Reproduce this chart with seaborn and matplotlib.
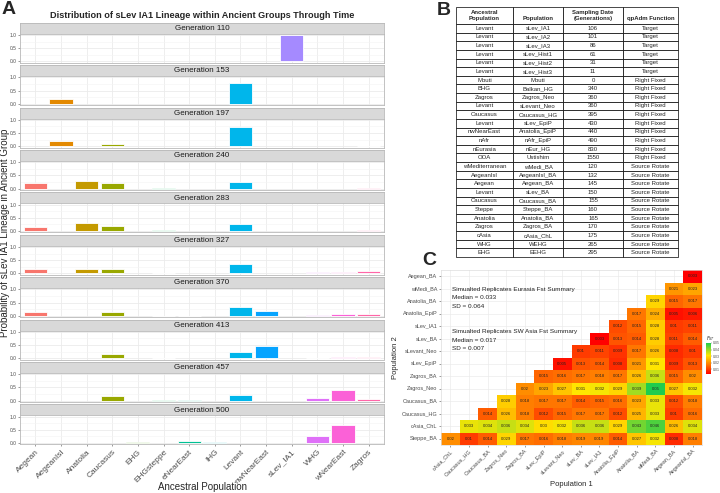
import numpy as np
import pandas as pd
import matplotlib
matplotlib.use("Agg")
import matplotlib.pyplot as plt
import seaborn as sns
from matplotlib.colors import LinearSegmentedColormap

# ---------------- panel A: lineage probability per generation ----------------
populations = ["Aegean", "AegeanIsl", "Anatolia", "Caucasus", "EHG", "EHGsteppe",
               "eNearEast", "IHG", "Levant", "nwNearEast", "sLev_IA1", "WHG",
               "wNearEast", "Zagros"]
pop_colors = ["#F8766D", "#E38900", "#C49A00", "#99A800", "#53B400", "#00BC56",
              "#00C094", "#00BFC4", "#00B6EB", "#06A4FF", "#A58AFF", "#DF70F8",
              "#FB61D7", "#FF66A8"]
generations = [110, 153, 197, 240, 283, 327, 370, 413, 457, 500]

gen_110 = [0, 0, 0, 0, 0, 0, 0, 0, 0, 0, 1.0, 0, 0, 0]
gen_153 = [0, 0.2, 0, 0, 0, 0, 0, 0, 0.8, 0, 0, 0, 0, 0]
gen_197 = [0, 0.2, 0, 0.07, 0, 0, 0, 0, 0.72, 0, 0, 0, 0, 0.02]
gen_240 = [0.2, 0, 0.27, 0.23, 0, 0.01, 0, 0, 0.25, 0, 0, 0, 0, 0.02]
gen_283 = [0.15, 0, 0.32, 0.2, 0, 0.02, 0, 0, 0.25, 0, 0, 0, 0, 0.02]
gen_327 = [0.15, 0, 0.18, 0.18, 0, 0.02, 0, 0, 0.35, 0, 0, 0.05, 0.05, 0.08]
gen_370 = [0.13, 0, 0, 0.15, 0, 0.01, 0.01, 0, 0.35, 0.18, 0, 0.04, 0.05, 0.06]
gen_413 = [0, 0, 0, 0.15, 0, 0.02, 0, 0, 0.22, 0.45, 0, 0.02, 0.04, 0.06]
gen_457 = [0, 0, 0, 0.18, 0, 0.03, 0.03, 0, 0.22, 0, 0, 0.08, 0.42, 0.05]
gen_500 = [0, 0, 0, 0, 0.02, 0, 0.08, 0.02, 0, 0, 0, 0.25, 0.67, 0]
gen_values = [gen_110, gen_153, gen_197, gen_240, gen_283,
              gen_327, gen_370, gen_413, gen_457, gen_500]

# ---------------- panel B: sample table ----------------
table_header = ["Ancestral\nPopulation", "\nPopulation",
                "Sampling Date\n(Generations)", "\nqpAdm Function"]
anc_population = ["Levant", "Levant", "Levant", "Levant", "Levant", "Levant",
                  "Mbuti", "BHG", "Zagros", "Levant", "Caucasus", "Levant",
                  "nwNearEast", "nAfr", "nEurasia", "OOA", "wMediterranean",
                  "AegeanIsl", "Aegean", "Levant", "Caucasus", "Steppe",
                  "Anatolia", "Zagros", "cAsia", "WHG", "EHG"]
sample_population = ["sLev_IA1", "sLev_IA2", "sLev_IA3", "sLev_Hist1", "sLev_Hist2",
                     "sLev_Hist3", "Mbuti", "Balkan_HG", "Zagros_Neo", "sLevant_Neo",
                     "Caucasus_HG", "sLev_EpiP", "Anatolia_EpiP", "nAfr_EpiP",
                     "nEur_HG", "Ustishim", "wMedi_BA", "AegeanIsl_BA", "Aegean_BA",
                     "sLev_BA", "Caucasus_BA", "Steppe_BA", "Anatolia_BA",
                     "Zagros_BA", "cAsia_ChL", "WEHG", "EEHG"]
sampling_date = [106, 101, 86, 61, 31, 11, 0, 340, 360, 360, 395, 430, 440, 490,
                 830, 1550, 120, 132, 145, 150, 155, 160, 165, 170, 175, 265, 295]
qpadm_function = ["Target"] * 6 + ["Right Fixed"] * 10 + ["Source Rotate"] * 11

# ---------------- panel C: pairwise Fst ----------------
pop1 = ["cAsia_ChL", "Caucasus_HG", "Caucasus_BA", "Zagros_Neo", "Zagros_BA",
        "sLev_EpiP", "sLevant_Neo", "sLev_BA", "sLev_IA1", "Anatolia_EpiP",
        "Anatolia_BA", "wMedi_BA", "Aegean_BA", "AegeanIsl_BA"]
pop2 = ["Steppe_BA", "cAsia_ChL", "Caucasus_HG", "Caucasus_BA", "Zagros_Neo",
        "Zagros_BA", "sLev_EpiP", "sLevant_Neo", "sLev_BA", "sLev_IA1",
        "Anatolia_EpiP", "Anatolia_BA", "wMedi_BA", "Aegean_BA"]
fst_steppe_ba = [0.02, 0.01, 0.014, 0.029, 0.017, 0.016, 0.018, 0.019, 0.019,
                 0.014, 0.027, 0.032, 0.008, 0.018]
fst_casia_chl = [0.033, 0.034, 0.036, 0.034, 0.03, 0.032, 0.036, 0.036, 0.029,
                 0.043, 0.046, 0.026, 0.034]
fst_caucasus_hg = [0.014, 0.026, 0.018, 0.012, 0.015, 0.017, 0.017, 0.012, 0.025,
                   0.033, 0.01, 0.016]
fst_caucasus_ba = [0.028, 0.018, 0.017, 0.017, 0.014, 0.015, 0.016, 0.023, 0.033,
                   0.012, 0.018]
fst_zagros_neo = [0.02, 0.023, 0.027, 0.031, 0.032, 0.029, 0.039, 0.05, 0.027, 0.032]
fst_zagros_ba = [0.015, 0.016, 0.017, 0.018, 0.017, 0.026, 0.036, 0.015, 0.02]
fst_slev_epip = [0.005, 0.013, 0.014, 0.008, 0.021, 0.031, 0.009, 0.013]
fst_slevant_neo = [0.01, 0.011, 0.009, 0.017, 0.026, 0.008, 0.01]
fst_slev_ba = [0.003, 0.013, 0.014, 0.028, 0.011, 0.014]
fst_slev_ia1 = [0.012, 0.015, 0.028, 0.01, 0.011]
fst_anatolia_epip = [0.017, 0.024, 0.005, 0.006]
fst_anatolia_ba = [0.029, 0.015, 0.017]
fst_wmedi_ba = [0.021, 0.023]
fst_aegean_ba = [0.003]
fst_rows = [fst_steppe_ba, fst_casia_chl, fst_caucasus_hg, fst_caucasus_ba,
            fst_zagros_neo, fst_zagros_ba, fst_slev_epip, fst_slevant_neo,
            fst_slev_ba, fst_slev_ia1, fst_anatolia_epip, fst_anatolia_ba,
            fst_wmedi_ba, fst_aegean_ba]

W, H = 720, 493
sns.set_theme(style="white")
plt.rcParams["font.family"] = ["Liberation Sans", "DejaVu Sans"]
fig = plt.figure(figsize=(W / 100, H / 100), dpi=100)


def px_axes(x0, y0, x1, y1):
    return fig.add_axes([x0 / W, 1 - y1 / H, (x1 - x0) / W, (y1 - y0) / H])


GREY_TXT = "#4D4D4D"
BORDER = "#B8B8B8"

# ---------------- draw panel A ----------------
df_a = pd.DataFrame(
    [(g, p, v) for g, vals in zip(generations, gen_values)
     for p, v in zip(populations, vals)],
    columns=["generation", "population", "prob"],
)
palette = dict(zip(populations, pop_colors))
left, right = 20, 384
for i, gen in enumerate(generations):
    top = 22.7 + 42.4 * i
    strip = px_axes(left, top, right, top + 11)
    strip.set_facecolor("#D9D9D9")
    strip.set_xticks([])
    strip.set_yticks([])
    for s in strip.spines.values():
        s.set_color(BORDER)
        s.set_linewidth(0.6)
    strip.text(0.5, 0.48, f"Generation {gen}", ha="center", va="center",
               fontsize=5.8, color="#1A1A1A", transform=strip.transAxes)

    ax = px_axes(left, top + 11, right, top + 40)
    sub = df_a[(df_a.generation == gen) & (df_a.prob > 0)]
    sns.barplot(data=sub, x="population", y="prob", hue="population",
                order=populations, hue_order=populations, palette=palette,
                width=0.9, saturation=1, edgecolor="white", linewidth=0.6,
                legend=False, ax=ax)
    ax.set_xlim(-0.6, len(populations) - 0.4)
    ax.set_ylim(-0.05, 1.05)
    ax.set_xlabel("")
    ax.set_ylabel("")
    ax.set_yticks([0, 0.5, 1.0])
    ax.set_yticklabels(["0.0", "0.5", "1.0"])
    ax.set_yticks([0.25, 0.75], minor=True)
    ax.set_xticks(range(len(populations)))
    ax.grid(True, which="major", color="#EBEBEB", lw=0.6)
    ax.grid(True, which="minor", axis="y", color="#F4F4F4", lw=0.4)
    ax.set_axisbelow(True)
    ax.set_facecolor("white")
    for s in ax.spines.values():
        s.set_visible(True)
        s.set_color(BORDER)
        s.set_linewidth(0.6)
    ax.tick_params(axis="y", labelsize=3.5, colors=GREY_TXT, length=1.5,
                   width=0.4, pad=1, left=True)
    ax.tick_params(axis="y", which="minor", length=0)
    if i == len(generations) - 1:
        ax.set_xticklabels(populations, rotation=45, ha="right",
                           rotation_mode="anchor")
        ax.tick_params(axis="x", labelsize=6, colors=GREY_TXT, length=1.5,
                       width=0.4, pad=1.5, bottom=True)
    else:
        ax.set_xticklabels([])
        ax.tick_params(axis="x", length=0)

fig.text(202 / W, 1 - 487 / H, "Ancestral Population", ha="center", va="center",
         fontsize=7)
fig.text(5 / W, 1 - 233 / H, "Probability of sLev IA1 Lineage in Ancient Group",
         ha="center", va="center", rotation=90, fontsize=7)
fig.text(202 / W, 1 - 15.5 / H,
         "Distribution of sLev IA1 Lineage within Ancient Groups Through Time",
         ha="center", va="center", fontsize=6.6, fontweight="bold")

# ---------------- draw panel B ----------------
axb = px_axes(456, 7, 678, 257)
axb.axis("off")
cell_text = [[a, p, str(d), f] for a, p, d, f in
             zip(anc_population, sample_population, sampling_date, qpadm_function)]
col_w = np.array([57, 50, 60, 55], dtype=float)
tbl = axb.table(cellText=cell_text, colLabels=table_header,
                colWidths=list(col_w / col_w.sum()), cellLoc="center",
                bbox=[0, 0, 1, 1])
tbl.auto_set_font_size(False)
tbl.set_fontsize(4.3)
for (r, c), cell in tbl.get_celld().items():
    cell.set_linewidth(0.5)
    cell.set_edgecolor("black")
    cell.set_height(17 if r == 0 else 8.63)
    cell.PAD = 0.02
    if r == 0:
        cell.get_text().set_fontweight("bold")
        cell.get_text().set_linespacing(1.15)

# ---------------- draw panel C ----------------
mat = np.full((len(pop2), len(pop1)), np.nan)
for k, row in enumerate(fst_rows):
    mat[k, k:] = row
df_c = pd.DataFrame(mat, index=pop2, columns=pop1).iloc[::-1]
annot = np.vectorize(lambda v: "" if np.isnan(v) else f"{v:g}")(df_c.values)

fst_cmap = LinearSegmentedColormap.from_list(
    "fst", [(0.0, "#FF0000"), (0.3, "#FF7700"), (0.6, "#FFE600"), (1.0, "#1FCC4E")])

axc = px_axes(441, 270, 702, 445)
cax = px_axes(706, 343, 711, 374)
sns.heatmap(df_c, cmap=fst_cmap, vmin=0.003, vmax=0.05, annot=annot, fmt="",
            annot_kws={"fontsize": 3, "color": "#222222"}, ax=axc, cbar_ax=cax,
            linewidths=0, xticklabels=True, yticklabels=True)
axc.grid(True, color="#EBEBEB", lw=0.5)
axc.set_axisbelow(True)
for s in axc.spines.values():
    s.set_visible(True)
    s.set_color("#DDDDDD")
    s.set_linewidth(0.5)
axc.set_yticklabels(df_c.index, rotation=0)
axc.set_xticklabels(pop1, rotation=45, ha="right", rotation_mode="anchor")
axc.tick_params(axis="both", labelsize=4, colors=GREY_TXT, length=1.5, width=0.4,
                pad=1, left=True, bottom=True)
axc.set_xlabel("Population 1", fontsize=5.5, labelpad=3)
axc.set_ylabel("Population 2", fontsize=5.5, labelpad=2)

summary_lines = [
    ("Simualted Replicates Eurasia Fst Summary", 289),
    ("Median = 0.033", 297.5),
    ("SD = 0.064", 306),
    ("Simualted Replicates SW Asia Fst Summary", 332),
    ("Median = 0.017", 340.5),
    ("SD = 0.007", 349),
]
for txt, ypx in summary_lines:
    fig.text(452 / W, 1 - ypx / H, txt, ha="left", va="center", fontsize=4.6,
             color="#222222")

cbar = axc.collections[0].colorbar
cbar.outline.set_visible(False)
cbar.set_ticks([0.01, 0.02, 0.03, 0.04, 0.05])
cax.tick_params(labelsize=2.5, colors=GREY_TXT, length=1, width=0.3, pad=0.5)
cax.set_title("$F_{ST}$", fontsize=3.5, loc="left", pad=1.5)

# panel letters
fig.text(2 / W, 1 - 1 / H, "A", ha="left", va="top", fontsize=14, fontweight="bold")
fig.text(437 / W, 1 - 2 / H, "B", ha="left", va="top", fontsize=14, fontweight="bold")
fig.text(422 / W, 1 - 252 / H, "C", ha="left", va="top", fontsize=14,
         fontweight="bold")

fig.savefig("out.png", dpi=100)
